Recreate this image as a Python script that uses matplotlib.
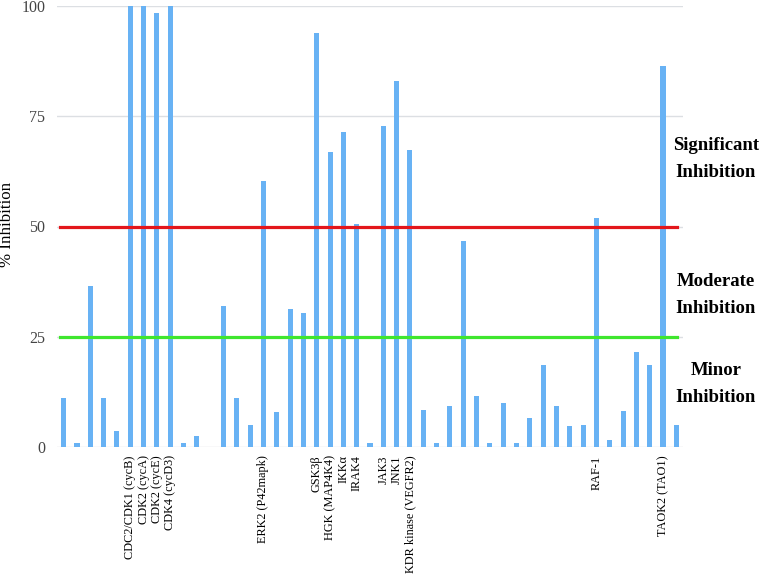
import matplotlib
matplotlib.use("Agg")
import matplotlib.pyplot as plt
import numpy as np

values = [11.0, 0.9, 36.5, 11.2, 3.6, 100.0, 100.0, 98.3, 100.0, 0.9, 2.6, 0.0,
          31.9, 11.0, 5.1, 60.3, 8.0, 31.2, 30.3, 93.8, 66.9, 71.4, 50.5, 0.9,
          72.8, 83.1, 67.3, 8.3, 0.9, 9.2, 46.6, 11.6, 0.9, 10.0, 0.9, 6.6,
          18.5, 9.2, 4.8, 5.1, 51.9, 1.7, 8.2, 21.5, 18.5, 86.4, 5.1]

labels = [""] * len(values)
named = {5: "CDC2/CDK1 (cycB)", 6: "CDK2 (cycA)", 7: "CDK2 (cycE)", 8: "CDK4 (cycD3)",
         15: "ERK2 (P42mapk)", 19: "GSK3β", 20: "HGK (MAP4K4)", 21: "IKKα", 22: "IRAK4",
         24: "JAK3", 25: "JNK1", 26: "KDR kinase (VEGFR2)", 40: "RAF-1", 45: "TAOK2 (TAO1)"}
for k, v in named.items():
    labels[k] = v

yticks = [0, 25, 50, 75, 100]
thresholds = [50, 25]
threshold_colors = ["#e3161b", "#3fe62e"]
zones = [("Significant\nInhibition", 65.3), ("Moderate\nInhibition", 34.5), ("Minor\nInhibition", 14.3)]

plt.rcParams['font.family'] = ['Liberation Serif', 'DejaVu Serif']

fig = plt.figure(figsize=(7.76, 5.75), dpi=100)
ax = fig.add_axes([57/776, 1-447/575, 626/776, 441/575])

x = np.arange(len(values))
ax.bar(x, values, width=0.38, color="#68b2f4", zorder=2)
ax.set_xlim(-0.5, len(values) - 0.5)
ax.set_ylim(0, 100)
ax.set_yticks(yticks)
ax.set_yticklabels([str(t) for t in yticks], fontsize=11.5, color="#444444")
ax.yaxis.grid(True, color="#dcdfe3", linewidth=1, zorder=0)
ax.set_axisbelow(True)
for s in ax.spines.values():
    s.set_visible(False)
ax.tick_params(length=0)
ax.tick_params(axis='y', pad=8.5)
ax.set_xticks(x)
ax.set_xticklabels(labels, rotation=90, fontsize=8.8, va='top', ha='center')
ax.tick_params(axis='x', pad=6)

fig.text(7.5/776, 1 - 224/575, "% Inhibition", rotation=90, fontsize=12.2,
         ha='center', va='center')

for t, c in zip(thresholds, threshold_colors):
    ax.axhline(t, xmin=0.005, xmax=0.99, color=c, linewidth=2.3, zorder=3)

for txt, yv in zones:
    ax.text((716 - 57) / 626, yv, txt, transform=ax.get_yaxis_transform(), fontsize=13.5,
            fontweight='bold', ha='center', va='center', multialignment='center',
            linespacing=1.72)

fig.savefig("out.png", dpi=100)
